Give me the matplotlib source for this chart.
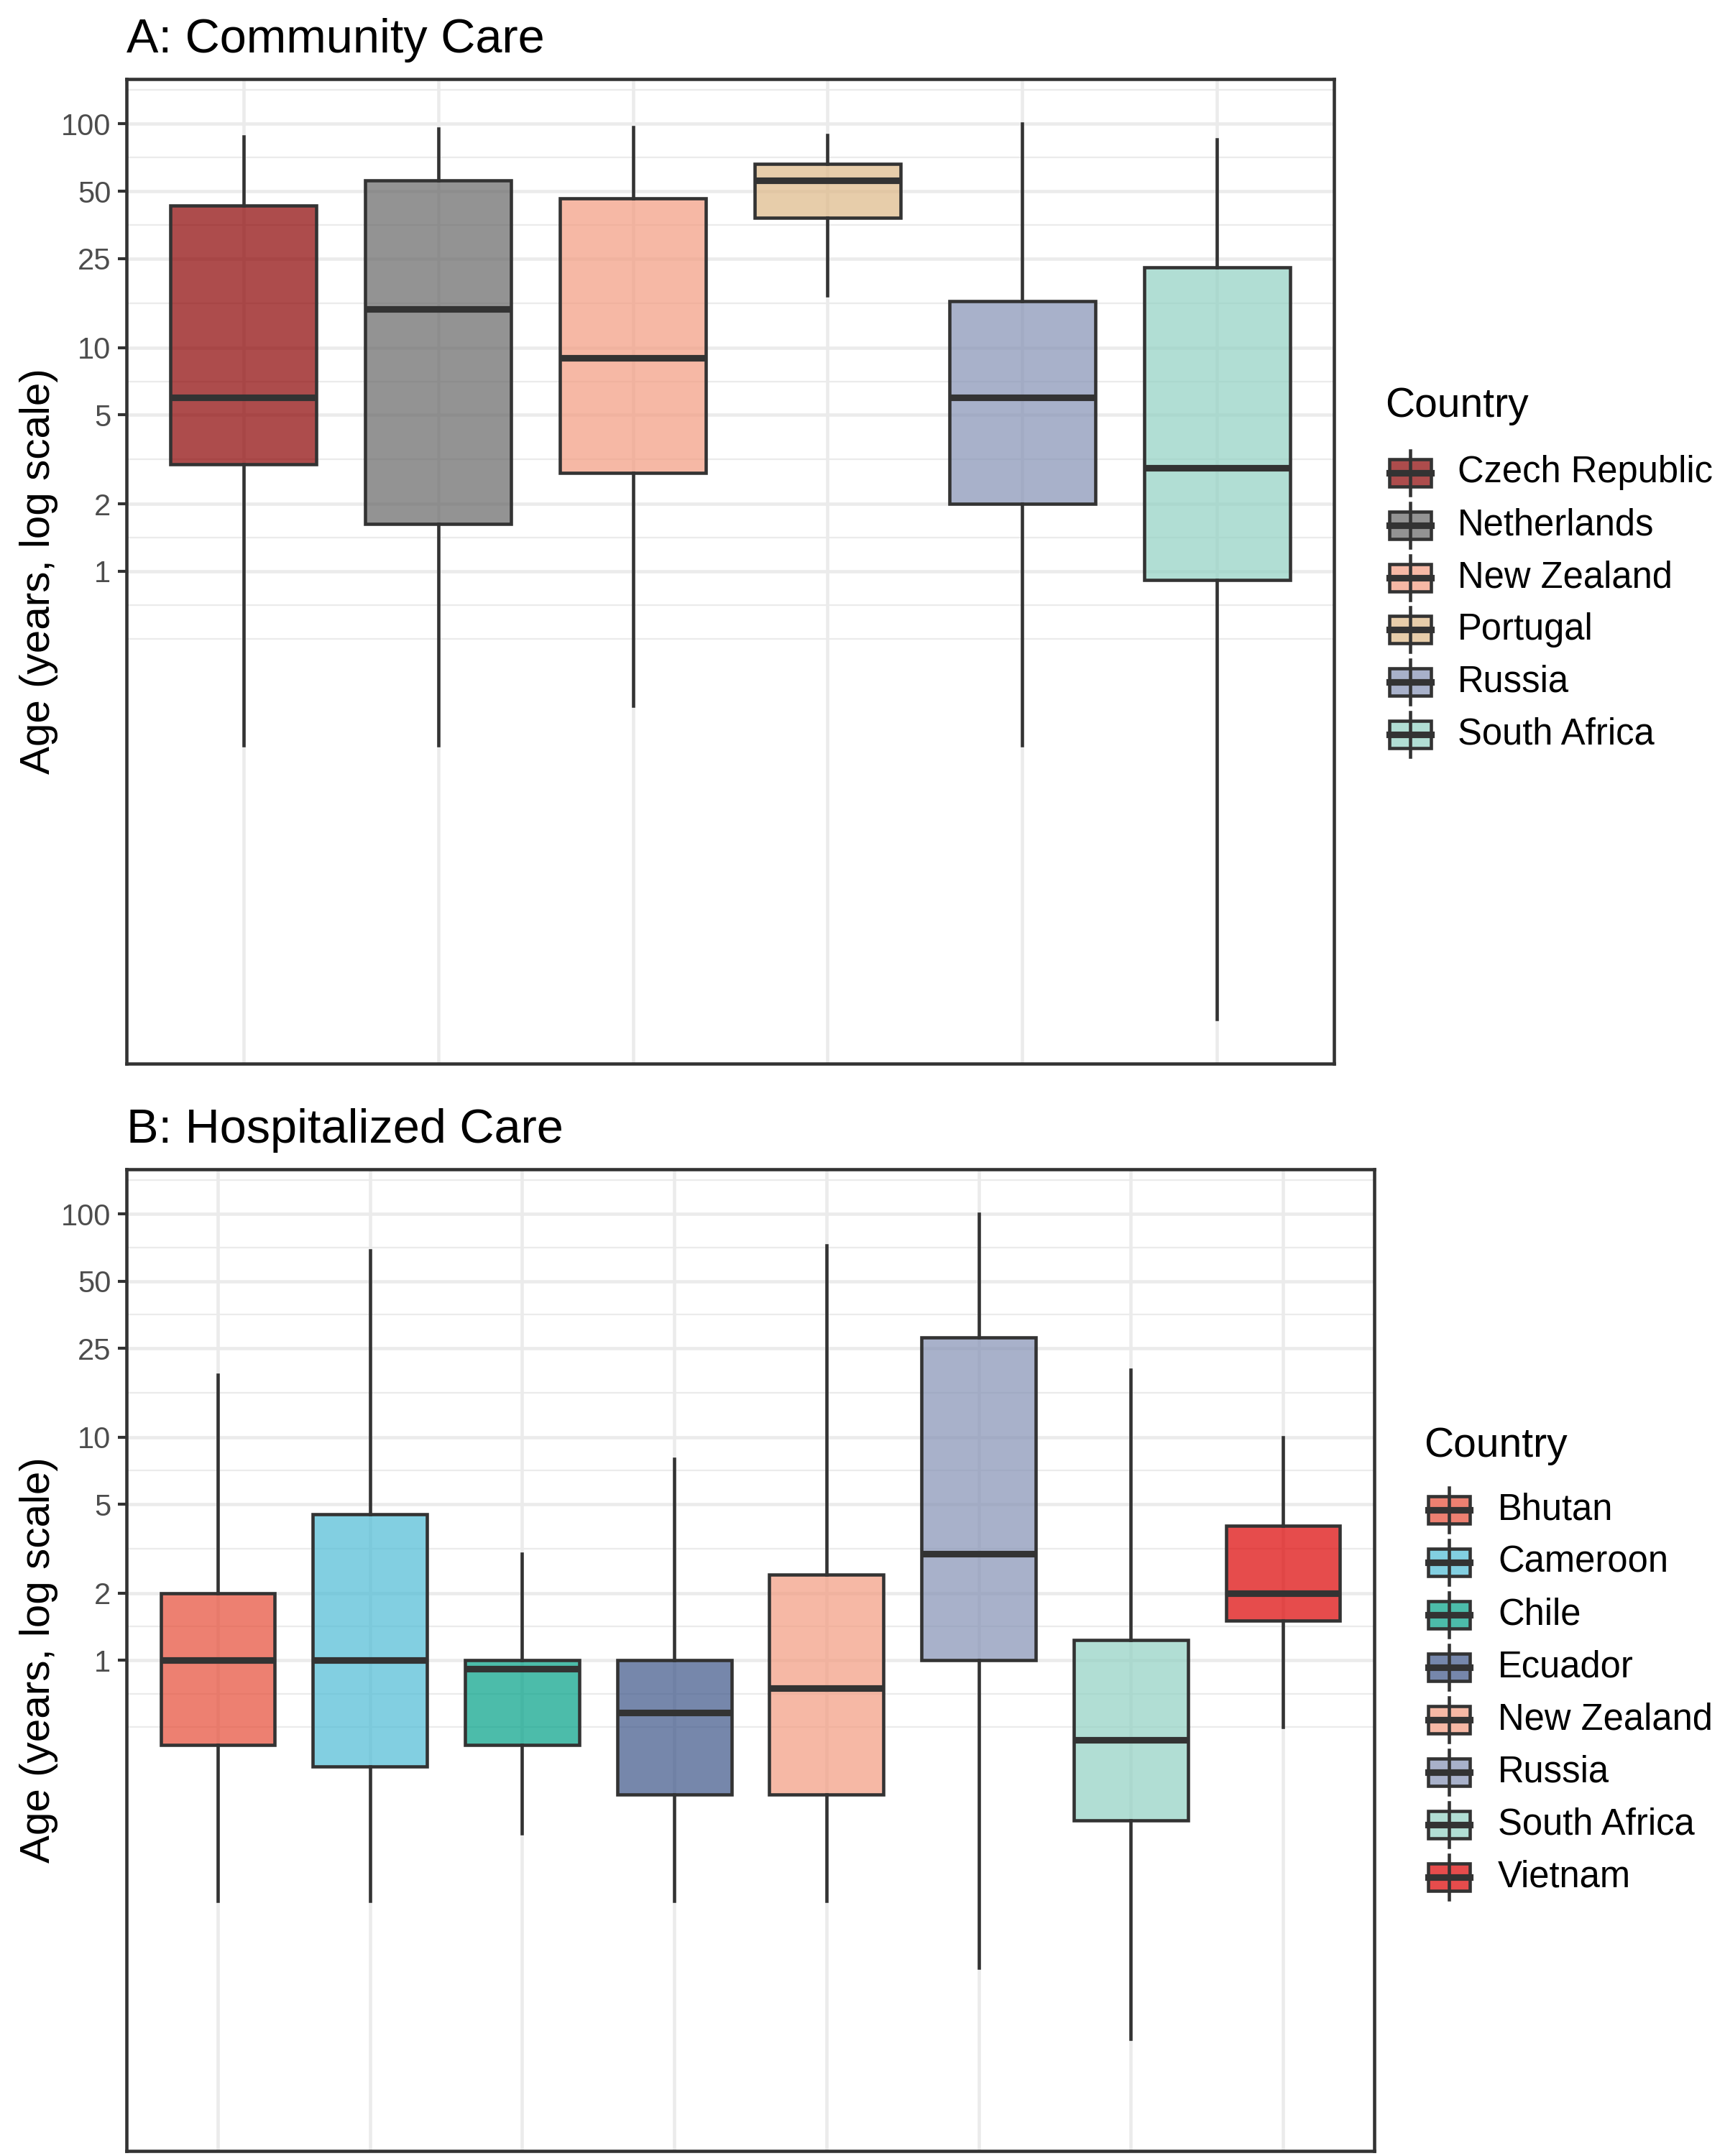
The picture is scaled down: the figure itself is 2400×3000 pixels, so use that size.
import numpy as np
import matplotlib.pyplot as plt
from matplotlib.patches import Rectangle
from matplotlib.lines import Line2D
from matplotlib.colors import to_rgba
from matplotlib.ticker import FixedLocator, NullFormatter

plt.rcParams['font.family'] = ['Liberation Sans', 'DejaVu Sans']

# A: Community Care (idade em anos)
paisesA = ['Czech Republic', 'Netherlands', 'New Zealand', 'Portugal', 'Russia', 'South Africa']
minA = [0.167, 0.167, 0.25, 17.1, 0.167, 0.01]
q1A = [3.0, 1.63, 2.75, 38.1, 2.0, 0.917]
medA = [6.0, 14.85, 9.0, 55.9, 6.0, 2.9]
q3A = [43.0, 55.9, 46.6, 66.0, 16.1, 22.8]
maxA = [88.0, 95.0, 96.7, 88.7, 100.0, 85.2]

# B: Hospitalized Care
paisesB = ['Bhutan', 'Cameroon', 'Chile', 'Ecuador', 'New Zealand', 'Russia', 'South Africa', 'Vietnam']
minB = [0.0833, 0.0833, 0.167, 0.0833, 0.0833, 0.0417, 0.02, 0.5]
q1B = [0.417, 0.333, 0.417, 0.25, 0.25, 1.0, 0.191, 1.5]
medB = [1.0, 1.0, 0.917, 0.583, 0.75, 3.0, 0.44, 2.0]
q3B = [2.0, 4.5, 1.0, 1.0, 2.41, 28.0, 1.23, 4.0]
maxB = [19.0, 68.8, 3.0, 8.0, 72.0, 100.0, 20.0, 10.0]

# faixa total das idades (inclui outliers nao desenhados)
idade_min, idade_max = 0.01, 100.0

quebras = [1, 2, 5, 10, 25, 50, 100]
rotulos = ['1', '2', '5', '10', '25', '50', '100']

cores = {
    'Czech Republic': '#8B0000',
    'Netherlands': '#666666',
    'New Zealand': '#F39B7F',
    'Portugal': '#DEB887',
    'Russia': '#8491B4',
    'South Africa': '#91D1C2',
    'Bhutan': '#E64B35',
    'Cameroon': '#4DBBD5',
    'Chile': '#00A087',
    'Ecuador': '#3C5488',
    'Vietnam': '#DC0000',
}
alfa = 0.7
cinza = '#333333'

W, H = 2400, 3000


def frac(l, t, r, b):
    return [l / W, 1 - b / H, (r - l) / W, (b - t) / H]


def minor_breaks(b, lim):
    # mesmo esquema do ggplot: pontos medios (escala log) entre as quebras
    lb = np.log10(b)
    bd = lb[1] - lb[0]
    lb = np.concatenate([[lb[0] - bd], lb, [lb[-1] + bd]])
    m = []
    for a, c in zip(lb[:-1], lb[1:]):
        m += [a, (a + c) / 2]
    m.append(lb[-1])
    m = np.array(m)
    lo, hi = np.log10(lim)
    m = m[(m >= lo) & (m <= hi)]
    m = [v for v in m if not np.any(np.isclose(v, np.log10(b)))]
    return 10 ** np.array(m)


def painel(ax, paises, lo, q1, med, q3, hi, titulo):
    n = len(paises)
    stats = [dict(med=med[i], q1=q1[i], q3=q3[i], whislo=lo[i], whishi=hi[i], fliers=[])
             for i in range(n)]
    pos = np.arange(1, n + 1)
    res = ax.bxp(stats, positions=pos, widths=0.75, patch_artist=True,
                 showcaps=False, showfliers=False,
                 boxprops=dict(edgecolor=cinza, linewidth=1.1),
                 whiskerprops=dict(color=cinza, linewidth=1.1),
                 medianprops=dict(color=cinza, linewidth=2.2, solid_capstyle='butt'))
    for caixa, p in zip(res['boxes'], paises):
        caixa.set_facecolor(to_rgba(cores[p], alfa))
    ax.set_yscale('log')
    span = np.log10(idade_max) - np.log10(idade_min)
    lim = (10 ** (np.log10(idade_min) - 0.05 * span), 10 ** (np.log10(idade_max) + 0.05 * span))
    ax.set_ylim(lim)
    ax.set_xlim(0.4, n + 0.6)
    ax.yaxis.set_major_locator(FixedLocator(quebras))
    ax.set_yticklabels(rotulos)
    ax.yaxis.set_minor_locator(FixedLocator(minor_breaks(quebras, lim)))
    ax.yaxis.set_minor_formatter(NullFormatter())
    ax.set_xticks(pos)
    ax.set_xticklabels([])
    ax.tick_params(axis='x', length=0)
    ax.tick_params(axis='y', which='major', length=3, width=1.0, color=cinza,
                   labelsize=10, labelcolor='#4D4D4D', pad=2.2)
    ax.tick_params(axis='y', which='minor', length=0)
    ax.set_axisbelow(True)
    ax.grid(which='major', color='#EBEBEB', linewidth=1.1)
    ax.grid(which='minor', axis='y', color='#EBEBEB', linewidth=0.55)
    for s in ax.spines.values():
        s.set_color(cinza)
        s.set_linewidth(1.1)
    ax.set_title(titulo, loc='left', fontsize=16, pad=8.8)
    ax.set_ylabel('Age (years, log scale)', fontsize=14)
    ax.yaxis.label.set_verticalalignment('center')
    l, b, w, h = ax.get_position().bounds
    ax.yaxis.set_label_coords((54 / W - l) / w, 0.5)


def legenda(axf, nomes, x_tit, y_tit, x_key, x_lab, y0, dy):
    axf.text(x_tit, y_tit, 'Country', fontsize=13.7, ha='left', va='center')
    for i, nome in enumerate(nomes):
        y = y0 + i * dy
        axf.add_line(Line2D([x_key, x_key], [y - 31, y + 31], color=cinza, lw=1.1))
        axf.add_patch(Rectangle((x_key - 29, y - 19), 58, 38,
                                facecolor=to_rgba(cores[nome], alfa), edgecolor=cinza, lw=1.1))
        axf.add_line(Line2D([x_key - 29, x_key + 29], [y, y], color=cinza, lw=2.2))
        axf.text(x_lab, y, nome, fontsize=12.2, ha='left', va='center')


fig = plt.figure(figsize=(8, 10), dpi=300)
axA = fig.add_axes(frac(176, 110, 1856, 1480))
axB = fig.add_axes(frac(176, 1627, 1912, 2993))

painel(axA, paisesA, minA, q1A, medA, q3A, maxA, 'A: Community Care')
painel(axB, paisesB, minB, q1B, medB, q3B, maxB, 'B: Hospitalized Care')

axf = fig.add_axes([0, 0, 1, 1])
axf.set_xlim(0, W)
axf.set_ylim(H, 0)
axf.axis('off')
legenda(axf, paisesA, 1927, 565, 1962, 2028, 658, 72.8)
legenda(axf, paisesB, 1981, 2012, 2016, 2084, 2101, 73.0)

fig.savefig('out.png', dpi=300)
